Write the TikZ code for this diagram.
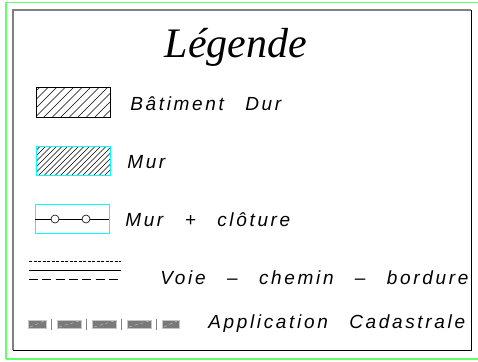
\documentclass[tikz,border=0pt]{standalone}
\usepackage{fontspec}
\setmainfont{Liberation Serif}
\newfontfamily\cadfont[LetterSpace=14,WordSpace=2.7]{Liberation Sans}
\definecolor{cadcyan}{RGB}{0,255,255}
\definecolor{cadgreen}{RGB}{100,255,100}
\begin{document}
\begin{tikzpicture}[x=1pt,y=-1pt,semithick,
  legtext/.style={anchor=base west, inner sep=0pt, font=\cadfont\itshape\fontsize{19}{19}\selectfont},
  keybox/.style={draw, line width=0.8pt},
  hatch/.style={line width=0.5pt},
  cadseg/.style={fill=gray!95!black, draw=gray!45, line width=0.6pt}]
\useasboundingbox (0,0) rectangle (478,361);
% frames
\draw[cadgreen, line width=1.5pt] (6,359) -- (6,2.5) -- (480,2.5);
\draw[cadgreen, line width=1.5pt] (6,359) -- (480,359);
\draw[gray, line width=1.2pt] (13,350) -- (13,10) -- (471,10);
\draw[black, line width=0.8pt] (13,350) -- (471,350) -- (471,10);
\node[anchor=base, inner sep=0pt, font=\itshape\fontsize{42}{42}\selectfont] (titre) at (236,57) {Légende};
% batiment dur
\begin{scope}
\clip (36,87) rectangle (110,117);
\foreach \x in {10,18.5,...,120} \draw[hatch] (\x,117) -- (\x+30,87);
\end{scope}
\draw[keybox] (36,87) rectangle (110,117);
\node[legtext] (bat) at (130,110) {Bâtiment Dur};
% mur
\begin{scope}
\clip (36,146) rectangle (110,175);
\foreach \x in {6,11.5,...,120} \draw[hatch] (\x,175) -- (\x+29,146);
\end{scope}
\draw[keybox, cadcyan] (36,146) rectangle (110,175);
\node[legtext] (mur) at (127,168) {Mur};
% mur + cloture
\draw[keybox, cadcyan] (35,204) rectangle (109,233);
\coordinate (cl1) at (35,219);
\coordinate (cl2) at (109,219);
\draw (cl1) -- (cl2);
\foreach \x in {55,86} \draw[fill=white] (\x,219) circle (4);
\node[legtext] (cloture) at (125,226) {Mur + clôture};
% voie
\coordinate (v1) at (29,261);
\coordinate (v2) at (121,261);
\draw[thin, dash pattern=on 3pt off 1.5pt] (v1) -- (v2);
\draw (29,270) -- (121,270);
\draw[thin, dash pattern=on 9pt off 4.3pt] (29,279) -- (121,279);
\node[legtext] (voie) at (160,284) {Voie – chemin – bordure};
% application cadastrale
\foreach \a/\b in {28/46,57/81,92/116,127/151,162/179} {
  \draw[cadseg] (\a,320) rectangle (\b,328);
  \draw[gray!40, thin, dashed] (\a+2,327) -- (\b-2,321);
}
\foreach \x in {51.5,86.5,121.5,156.5} \draw[gray, line width=0.8pt] (\x,318.5) -- (\x,329.5);
\node[legtext] (cad) at (208,328) {Application Cadastrale};
\end{tikzpicture}
\end{document}
